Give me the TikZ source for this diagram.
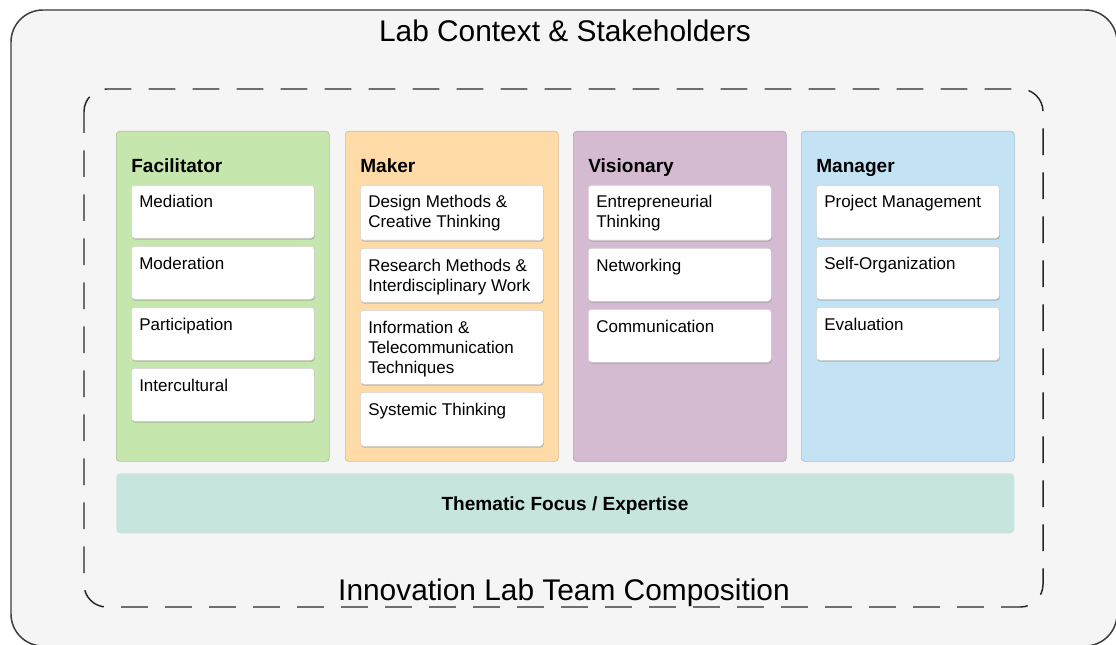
\documentclass[tikz,border=0pt]{standalone}
\usepackage{fontspec}
\setmainfont{Liberation Sans}
\usetikzlibrary{shadows}
\definecolor{bgc}{HTML}{F5F5F5}
\definecolor{outerc}{HTML}{3A3A3A}
\definecolor{facc}{HTML}{C5E6AC}
\definecolor{makc}{HTML}{FFDBA8}
\definecolor{visc}{HTML}{D4BBD2}
\definecolor{manc}{HTML}{C3E3F5}
\definecolor{thec}{HTML}{C5E5DE}
\tikzset{
  colbox/.style={anchor=north west, minimum width=159.75pt, minimum height=247.5pt, rounded corners=2.5pt, line width=0.5pt, inner sep=0pt},
  skill/.style={anchor=north west, fill=white, draw=black!18, line width=0.4pt, rounded corners=2.5pt, minimum width=137.25pt, inner sep=0pt,
    drop shadow={shadow xshift=0.4pt, shadow yshift=-1pt, opacity=0.35, fill=black!60}},
  skilltext/.style={anchor=base west, inner sep=0pt, font=\fontsize{12.75}{15}\selectfont},
  colhead/.style={anchor=base west, inner sep=0pt, font=\fontsize{14.3}{17}\selectfont\bfseries},
  bigtitle/.style={anchor=base, inner sep=0pt, font=\fontsize{22.4}{26}\selectfont},
}
\newcommand{\skillbox}[5]{%
  \node[skill, minimum height=#4*0.75pt] (#1) at (#2,#3) {};
  \node[skilltext] (#1t) at ([xshift=6pt, yshift=-17.25pt]#1.north west) {\parbox[t]{132pt}{\raggedright #5}};
}
\begin{document}
\begin{tikzpicture}[x=0.75pt,y=-0.75pt]
\useasboundingbox (0,0) rectangle (1116,645);
% outer context
\draw[fill=bgc, draw=outerc, line width=1.1pt, rounded corners=24pt] (11,10) rectangle (1117,646);
\node[bigtitle] (ctx) at (565,42) {Lab Context \& Stakeholders};
% dashed team frame
\draw[draw=black!85, line width=1.1pt, dash pattern=on 20pt off 13pt, dash phase=4pt, rounded corners=17pt] (84,89) rectangle (1043,607);
\node[bigtitle] (team) at (564,600) {Innovation Lab Team Composition};
% columns
\node[colbox, fill=facc, draw=facc!85!black] (fac) at (116,131) {};
\node[colbox, fill=makc, draw=makc!85!black] (mak) at (345,131) {};
\node[colbox, fill=visc, draw=visc!85!black] (vis) at (573,131) {};
\node[colbox, fill=manc, draw=manc!85!black] (man) at (801,131) {};
\node[colhead] (fach) at (131,173) {Facilitator};
\node[colhead] (makh) at (360,173) {Maker};
\node[colhead] (vish) at (588,173) {Visionary};
\node[colhead] (manh) at (816,173) {Manager};
% facilitator
\skillbox{f1}{131}{185}{53}{Mediation}
\skillbox{f2}{131}{246}{53}{Moderation}
\skillbox{f3}{131}{307}{53}{Participation}
\skillbox{f4}{131}{368}{53}{Intercultural}
% maker
\skillbox{m1}{360}{185}{55}{Design Methods \&\\Creative Thinking}
\skillbox{m2}{360}{248}{54}{Research Methods \&\\Interdisciplinary Work}
\skillbox{m3}{360}{310}{74}{Information \&\\Telecommunication\\Techniques}
\skillbox{m4}{360}{392}{54}{Systemic Thinking}
% visionary
\skillbox{v1}{588}{185}{55}{Entrepreneurial\\Thinking}
\skillbox{v2}{588}{248}{53}{Networking}
\skillbox{v3}{588}{309}{53}{Communication}
% manager
\skillbox{g1}{816}{185}{53}{Project Management}
\skillbox{g2}{816}{246}{53}{Self-Organization}
\skillbox{g3}{816}{307}{53}{Evaluation}
% thematic bar
\node[anchor=north west, fill=thec, draw=none, rounded corners=3pt, minimum width=673.5pt, minimum height=45pt, inner sep=0pt] (thm) at (116,473) {};
\node[anchor=base, inner sep=0pt, font=\fontsize{14.3}{17}\selectfont\bfseries] (thmt) at (565,510) {Thematic Focus / Expertise};
\end{tikzpicture}
\end{document}
